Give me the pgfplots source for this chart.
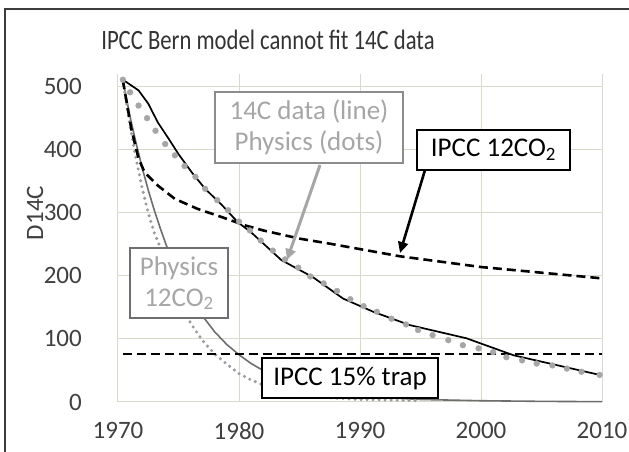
\documentclass[border=0pt]{standalone}
\usepackage{fontspec}
\setmainfont{Carlito}
\usepackage{pgfplots}
\pgfplotsset{compat=1.18}
\usetikzlibrary{arrows.meta}
\definecolor{gridc}{HTML}{D9D9CC}
\definecolor{axc}{HTML}{B0B0B0}
\definecolor{dotc}{HTML}{A6A6A6}
\definecolor{dotd}{HTML}{9C9C9C}
\definecolor{txtc}{HTML}{404040}
\definecolor{phys}{HTML}{6E6E6E}
\definecolor{boxgrey}{HTML}{8C8C8C}
\definecolor{framec}{HTML}{3C3C3C}
\begin{document}
\begin{tikzpicture}[x=1pt,y=1pt]
\useasboundingbox (0,0) rectangle (629,452);
\fill[white] (0,0) rectangle (629,452);
\draw[line width=2.5pt, framec] (5,0) -- (5,443) -- (629,443);
\begin{axis}[
  at={(118pt,50pt)}, anchor=south west,
  scale only axis, width=484pt, height=328pt,
  xmin=1970, xmax=2010, ymin=0, ymax=520,
  xtick={1970,1980,...,2010}, ytick={100,200,...,500},
  extra y ticks={0}, extra y tick style={grid style={color=axc, line width=1.2pt}},
  grid=major, major grid style={color=gridc, line width=1pt},
  axis line style={draw=none},
  major tick length=0pt,
  /pgf/number format/.cd, 1000 sep={}, assume math mode=true, /pgfplots/.cd,
  ticklabel style={font={\fontsize{25}{29}\selectfont}, text=txtc, inner sep=0pt},
  xticklabel style={anchor=north, yshift=-20pt},
  yticklabel style={anchor=east, xshift=-36pt},
  scaled ticks=false,
  clip=false,
]
% Physics 12CO2 (solid grey)
\addplot[phys, line width=1.6pt] coordinates {
(1970.4,510) (1971.0,452) (1971.5,410) (1972.0,371) (1972.5,336) (1973.0,304)
(1973.5,275) (1974.0,248) (1975.0,203) (1976.0,166) (1977.0,136) (1978.0,111)
(1979.0,91) (1980.0,75) (1981.0,61) (1982.0,50) (1983.0,41) (1984.0,33)
(1986.0,22) (1988.0,15) (1990.0,10) (1992.0,7) (1995.0,4) (2000.0,2)
(2005.0,1) (2010.0,0.5)};
% Physics 12CO2 (dotted)
\addplot[dotd, line width=3.4pt, line cap=round, dash pattern=on 0pt off 6pt] coordinates {
(1970.4,510) (1971.0,437) (1971.5,385) (1972.0,339) (1972.5,300) (1973.0,268)
(1973.5,245) (1974.0,215) (1975.0,163) (1976.0,125) (1977.0,97) (1978.0,76)
(1979.0,60) (1980.0,45) (1981.0,35) (1982.0,27) (1984.0,16) (1986.0,9)
(1988.0,6) (1990.0,4) (1993.0,3) (1995.0,2)};
% Physics dots
\addplot[only marks, mark=*, mark size=2.9pt, mark options={draw=dotc, fill=dotc}] coordinates {
(1970.4,511) (1971.0,491) (1971.7,470) (1972.4,450) (1973.1,430) (1973.9,409)
(1974.7,391) (1975.5,374) (1976.4,357) (1977.2,338) (1978.2,320) (1979.1,304)
(1980.0,286) (1980.9,272) (1981.8,256) (1982.8,240) (1983.8,226) (1984.9,213)
(1985.9,199) (1987.0,188) (1988.1,176) (1989.2,163) (1990.3,152) (1991.4,143)
(1992.6,132) (1993.8,123) (1994.8,114) (1996.0,106) (1997.3,98) (1998.5,90)
(1999.8,85) (2001.0,79) (2002.1,71) (2003.4,66) (2004.6,61) (2005.9,58)
(2007.1,53) (2008.3,48) (2009.8,43)};
% 14C data (line)
\addplot[black, line width=1.7pt] coordinates {
(1970.4,511) (1971.7,494) (1972.5,473) (1973.3,443) (1974.2,417) (1975.0,393)
(1976.1,364) (1977.2,338) (1978.6,312) (1979.9,285) (1981.0,269) (1983.5,225)
(1986.1,198) (1988.6,164) (1991.1,143) (1994.1,122) (1998.8,101) (2002.7,74)
(2009.8,43)};
% IPCC 12CO2
\addplot[black, line width=2.6pt, dash pattern=on 9pt off 5pt] coordinates {
(1970.4,510) (1971.1,433) (1971.7,386) (1972.2,364) (1973.3,343) (1974.7,322)
(1976.6,306) (1978.6,293) (1980.5,280) (1982.0,272) (1985.0,259) (1987.5,251)
(1993.3,231) (2000.0,214) (2010.0,196)};
% IPCC 15% trap
\addplot[black, line width=2.6pt, dash pattern=on 9pt off 5pt] coordinates {
(1970.4,76) (2010.0,76)};
\end{axis}
% title and y label
\node[anchor=base, text={rgb,255:red,51;green,51;blue,51}, font={\fontsize{28}{32}\selectfont}, inner sep=0pt] at (268,402) {\scalebox{0.81}[1]{IPCC Bern model cannot fit 14C data}};
\node[rotate=90, text=txtc, font={\fontsize{25}{29}\selectfont}, inner sep=0pt] at (35,239) {D14C};
% arrows
\draw[dotc, line width=3pt, -{Triangle[length=11pt,width=10pt]}] (320,287) -- (287,192);
\draw[black, line width=2.6pt, -{Triangle[length=11pt,width=10pt]}] (425,282) -- (400,199);
% boxes
\node[draw=boxgrey, line width=1.3pt, fill=white, text=dotc, align=center,
  minimum width=188pt, minimum height=71pt, inner sep=0pt,
  font={\fontsize{27}{31}\selectfont}] at (309,324.5) {14C data (line)\\Physics (dots)};
\node[draw=black, line width=1.3pt, fill=white, text=black, align=center,
  minimum width=153pt, minimum height=40pt, inner sep=0pt,
  font={\fontsize{27}{31}\selectfont}] at (493.5,302) {IPCC 12CO\textsubscript{2}};
\node[draw=phys, line width=1.3pt, fill=white, text=dotc, align=center,
  minimum width=98pt, minimum height=70pt, inner sep=0pt,
  font={\fontsize{27}{31}\selectfont}] at (179,169) {Physics\\12CO\textsubscript{2}};
\node[draw=black, line width=1.3pt, fill=white, text=black, align=center,
  minimum width=176pt, minimum height=40pt, inner sep=0pt,
  font={\fontsize{27}{31}\selectfont}] at (350,74) {IPCC 15\% trap};
\end{tikzpicture}
\end{document}
